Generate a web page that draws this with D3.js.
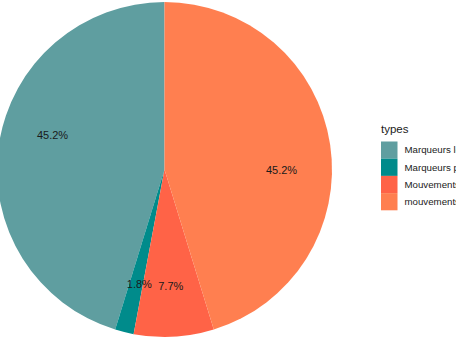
<!DOCTYPE html>
<html>
<head>
<meta charset="utf-8">
<script src="https://cdn.jsdelivr.net/npm/d3@7"></script>
<style>
  body { margin: 0; background: #fff; }
  svg { display: block; font-family: "Liberation Sans", Arial, sans-serif; }
</style>
</head>
<body>
<div id="chart"></div>
<script>
// legend order (ggplot factor levels)
const types = ["Marqueurs lexicaux", "Marqueurs prosodiques", "Mouvements corporels", "mouvements de tête"];
const percents = [45.2, 1.8, 7.7, 45.2];
const colors = ["#5F9EA0", "#008B8B", "#FF6347", "#FF7F50"];
// label position along the circle, in % of the total (as in the original pos column)
const labelPos = [79.6, 53.4, 49.1, 25.1];

const width = 456, height = 343;
const cx = 164.5, cy = 169.5, radius = 167.5;

const svg = d3.select("#chart").append("svg")
    .attr("width", width)
    .attr("height", height);

const color = d3.scaleOrdinal().domain(types).range(colors);

const rows = types.map((t, i) => ({ type: t, value: percents[i], pos: labelPos[i], idx: i }));

// slices drawn clockwise from the top, last level first
const pie = d3.pie()
    .value(d => d.value)
    .sort((a, b) => b.idx - a.idx);

const arc = d3.arc().innerRadius(0).outerRadius(radius);

const total = d3.sum(percents);
const angle = d3.scaleLinear().domain([0, total]).range([0, 2 * Math.PI]);

const g = svg.append("g").attr("transform", `translate(${cx},${cy})`);

g.selectAll("path.slice")
    .data(pie(rows))
    .enter()
    .append("path")
    .attr("class", "slice")
    .attr("d", arc)
    .attr("fill", d => color(d.data.type));

const labelR = 117;
g.selectAll("text.pct")
    .data(rows)
    .enter()
    .append("text")
    .attr("class", "pct")
    .attr("x", d => labelR * Math.sin(angle(d.pos)))
    .attr("y", d => -labelR * Math.cos(angle(d.pos)))
    .attr("dy", "0.35em")
    .attr("text-anchor", "middle")
    .style("font-size", "11px")
    .style("fill", "#1a1a1a")
    .text(d => d.value.toFixed(1) + "%");

// legend (cut by the right edge, as in the original)
const legend = svg.append("g").attr("transform", "translate(381,0)");

legend.append("text")
    .attr("x", 0)
    .attr("y", 133)
    .style("font-size", "11.5px")
    .style("fill", "#1a1a1a")
    .text("types");

const keyH = 17.2, keyTop = 141.5;
const keys = legend.selectAll("g.key")
    .data(types)
    .enter()
    .append("g")
    .attr("class", "key")
    .attr("transform", (d, i) => `translate(0,${keyTop + i * keyH})`);

keys.append("rect")
    .attr("width", 16.5)
    .attr("height", keyH)
    .attr("fill", d => color(d));

keys.append("text")
    .attr("x", 23.5)
    .attr("y", keyH / 2)
    .attr("dy", "0.35em")
    .style("font-size", "9.7px")
    .style("fill", "#1a1a1a")
    .text(d => d);
</script>
</body>
</html>
